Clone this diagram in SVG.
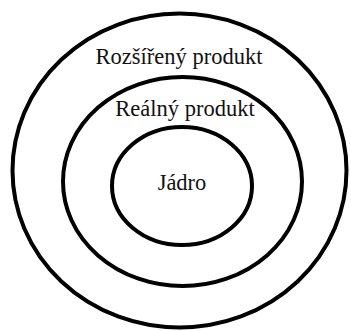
<svg xmlns="http://www.w3.org/2000/svg" width="351" height="331" viewBox="0 0 351 331">
<style>
.ring{fill:none;stroke:#000;stroke-width:4}
.lbl{font-family:"Liberation Serif","Times New Roman",serif;font-size:22.5px;fill:#111;text-anchor:middle}
</style>
<rect width="351" height="331" fill="#fff"/>
<g id="outer">
<ellipse class="ring" cx="179.5" cy="170.5" rx="167" ry="157"/>
<text class="lbl" x="179" y="64">Rozšířený produkt</text>
</g>
<g id="middle">
<ellipse class="ring" cx="182.5" cy="181.5" rx="119.5" ry="104.5"/>
<text class="lbl" x="185" y="115.5">Reálný produkt</text>
</g>
<g id="inner">
<ellipse class="ring" cx="182" cy="186" rx="70" ry="59"/>
<text class="lbl" x="182" y="190">Jádro</text>
</g>
<g id="connectors"/>
</svg>
